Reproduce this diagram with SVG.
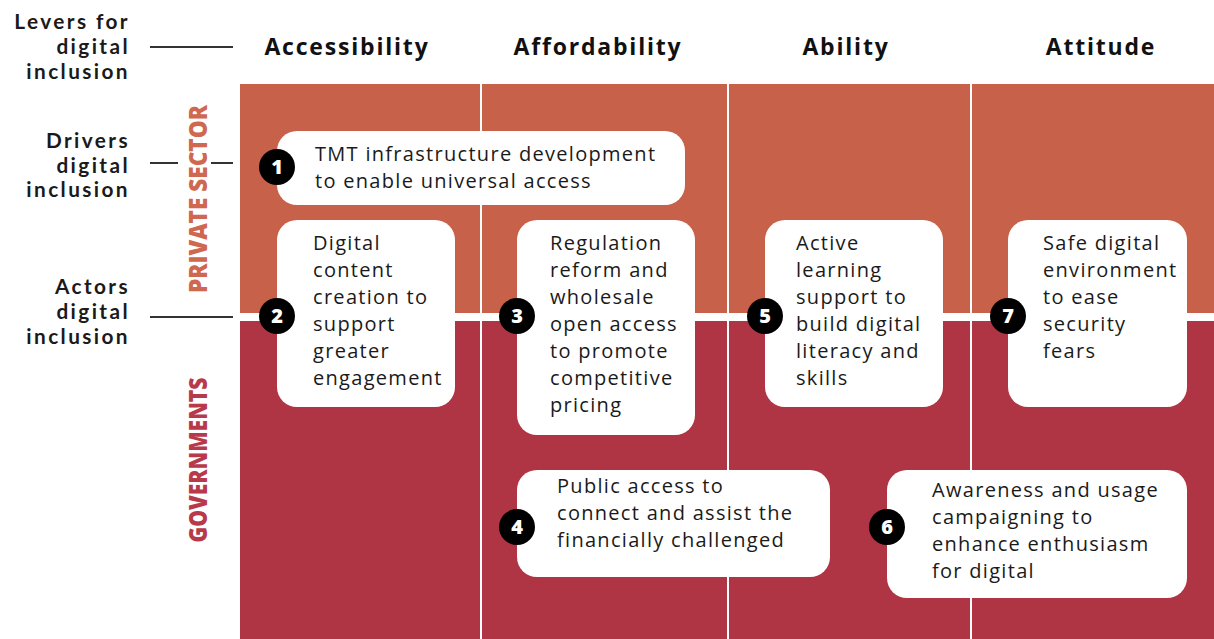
<svg xmlns="http://www.w3.org/2000/svg" width="1214" height="639" viewBox="0 0 1214 639">
<style>
.hdr{font-family:"Open Sans",sans-serif;font-weight:700;font-size:23px;fill:#111;text-anchor:middle;letter-spacing:1.8px}
.lbl{font-family:Lato,"Open Sans",sans-serif;font-weight:700;font-size:20.8px;fill:#1a1a1a;text-anchor:end;letter-spacing:2.4px}
.vt{font-family:"Open Sans",sans-serif;font-weight:800;font-size:25px;text-anchor:middle}
.box{fill:#fff}
.t{font-family:"Open Sans",sans-serif;font-size:20px;fill:#1a1a1a;letter-spacing:1.3px}
.num{fill:#000}
.nt{font-family:"Open Sans",sans-serif;font-weight:800;font-size:20px;fill:#fff;text-anchor:middle}
.ln{stroke:#333;stroke-width:2}
.div{stroke:#fff;stroke-width:2}
</style>
<rect width="1214" height="639" fill="#fff"/>
<g id="background">
<rect x="240" y="84" width="974" height="229" fill="#C8614A"/>
<rect x="240" y="321" width="974" height="318" fill="#AF3545"/>
<line class="div" x1="481" y1="84" x2="481" y2="639"/>
<line class="div" x1="728" y1="84" x2="728" y2="639"/>
<line class="div" x1="971" y1="84" x2="971" y2="639"/>
</g>
<g id="headers">
<text class="hdr" x="347" y="55">Accessibility</text>
<text class="hdr" x="598" y="55">Affordability</text>
<text class="hdr" x="846" y="55">Ability</text>
<text class="hdr" x="1101" y="55">Attitude</text>
</g>
<g id="row-labels">
<text class="lbl" x="130" y="29">Levers for</text>
<text class="lbl" x="130" y="54">digital</text>
<text class="lbl" x="130" y="79">inclusion</text>
<text class="lbl" x="130" y="148">Drivers</text>
<text class="lbl" x="130" y="173">digital</text>
<text class="lbl" x="130" y="197">inclusion</text>
<text class="lbl" x="130" y="294">Actors</text>
<text class="lbl" x="130" y="319">digital</text>
<text class="lbl" x="130" y="344">inclusion</text>
<text class="vt" transform="translate(207,199) rotate(-90)" fill="#D0674F" textLength="188" lengthAdjust="spacingAndGlyphs">PRIVATE SECTOR</text>
<text class="vt" transform="translate(207,460) rotate(-90)" fill="#B83A4A" textLength="165" lengthAdjust="spacingAndGlyphs">GOVERNMENTS</text>
</g>
<g id="connectors">
<line class="ln" x1="150" y1="47" x2="233" y2="47"/>
<line class="ln" x1="150" y1="163" x2="178" y2="163"/>
<line class="ln" x1="211" y1="163" x2="233" y2="163"/>
<line class="ln" x1="150" y1="317" x2="233" y2="317"/>
</g>
<g id="node1">
<rect class="box" x="277" y="131" width="408" height="74" rx="20"/>
<circle class="num" cx="277" cy="167" r="18"/><text class="nt" x="277" y="174">1</text>
<text class="t" x="315" y="161">TMT infrastructure development</text>
<text class="t" x="315" y="188">to enable universal access</text>
</g>
<g id="node2">
<rect class="box" x="277" y="220" width="178" height="187" rx="20"/>
<circle class="num" cx="277" cy="316" r="18"/><text class="nt" x="277" y="323">2</text>
<text class="t" x="313" y="250">Digital</text>
<text class="t" x="313" y="277">content</text>
<text class="t" x="313" y="304">creation to</text>
<text class="t" x="313" y="331">support</text>
<text class="t" x="313" y="358">greater</text>
<text class="t" x="313" y="385">engagement</text>
</g>
<g id="node3">
<rect class="box" x="517" y="220" width="178" height="215" rx="20"/>
<circle class="num" cx="517" cy="316" r="18"/><text class="nt" x="517" y="323">3</text>
<text class="t" x="550" y="250">Regulation</text>
<text class="t" x="550" y="277">reform and</text>
<text class="t" x="550" y="304">wholesale</text>
<text class="t" x="550" y="331">open access</text>
<text class="t" x="550" y="358">to promote</text>
<text class="t" x="550" y="385">competitive</text>
<text class="t" x="550" y="412">pricing</text>
</g>
<g id="node4">
<rect class="box" x="517" y="470" width="313" height="107" rx="20"/>
<circle class="num" cx="517" cy="527" r="18"/><text class="nt" x="517" y="534">4</text>
<text class="t" x="557" y="493">Public access to</text>
<text class="t" x="557" y="520">connect and assist the</text>
<text class="t" x="557" y="547">financially challenged</text>
</g>
<g id="node5">
<rect class="box" x="765" y="220" width="178" height="187" rx="20"/>
<circle class="num" cx="765" cy="316" r="18"/><text class="nt" x="765" y="323">5</text>
<text class="t" x="796" y="250">Active</text>
<text class="t" x="796" y="277">learning</text>
<text class="t" x="796" y="304">support to</text>
<text class="t" x="796" y="331">build digital</text>
<text class="t" x="796" y="358">literacy and</text>
<text class="t" x="796" y="385">skills</text>
</g>
<g id="node6">
<rect class="box" x="887" y="470" width="300" height="128" rx="20"/>
<circle class="num" cx="887" cy="527" r="18"/><text class="nt" x="887" y="534">6</text>
<text class="t" x="932" y="497">Awareness and usage</text>
<text class="t" x="932" y="524">campaigning to</text>
<text class="t" x="932" y="551">enhance enthusiasm</text>
<text class="t" x="932" y="578">for digital</text>
</g>
<g id="node7">
<rect class="box" x="1008" y="220" width="179" height="187" rx="20"/>
<circle class="num" cx="1008" cy="316" r="18"/><text class="nt" x="1008" y="323">7</text>
<text class="t" x="1043" y="250">Safe digital</text>
<text class="t" x="1043" y="277">environment</text>
<text class="t" x="1043" y="304">to ease</text>
<text class="t" x="1043" y="331">security</text>
<text class="t" x="1043" y="358">fears</text>
</g>
</svg>
